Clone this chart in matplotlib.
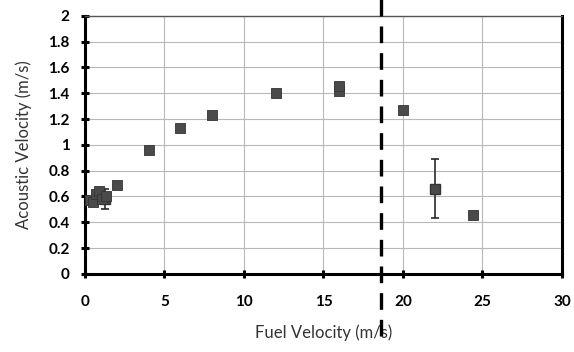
import numpy as np
import matplotlib.pyplot as plt
import matplotlib.transforms as mtransforms

# Messpunkte (Fuel Velocity, Acoustic Velocity)
fuel_vel = [0.3, 0.5, 0.7, 0.9, 1.1, 1.3, 2.0, 4.0, 6.0, 8.0, 12.0, 16.0, 16.0, 20.0, 24.4]
acoustic_vel = [0.57, 0.56, 0.62, 0.64, 0.58, 0.60, 0.69, 0.96, 1.13, 1.23, 1.40, 1.42, 1.46, 1.27, 0.46]

# Punkte mit Fehlerbalken
err_x = [1.25, 22.0]
err_y = [0.58, 0.66]
err_low = [0.08, 0.23]
err_high = [0.08, 0.23]

cutoff_x = 18.6

x_ticks = [0, 5, 10, 15, 20, 25, 30]
y_ticks = [0, 0.2, 0.4, 0.6, 0.8, 1.0, 1.2, 1.4, 1.6, 1.8, 2.0]
y_labels = ["0", "0.2", "0.4", "0.6", "0.8", "1", "1.2", "1.4", "1.6", "1.8", "2"]

plt.rcParams['font.family'] = ['Lato', 'DejaVu Sans']

fig = plt.figure(figsize=(5.74, 3.52), dpi=100)
ax = fig.add_axes([0.148, 0.222, 0.831, 0.733])

ax.errorbar(err_x, err_y, yerr=[err_low, err_high], fmt='s', color='#4a4a4a',
            ecolor='#2a2a2a', elinewidth=1.2, capsize=3, capthick=1.2,
            markersize=7.5, markeredgecolor='#333333', zorder=4)
ax.scatter(fuel_vel, acoustic_vel, marker='s', s=58, color='#4a4a4a',
           edgecolor='#333333', linewidth=0.6, zorder=5)

# Gestrichelte Grenzlinie (geht über die Achsen hinaus)
trans = mtransforms.blended_transform_factory(ax.transData, ax.transAxes)
ax.plot([cutoff_x, cutoff_x], [-0.24, 1.065], transform=trans, color='black',
        linewidth=2.4, dashes=(5, 3), clip_on=False, zorder=6)

ax.set_xlim(0, 30)
ax.set_ylim(0, 2)
ax.set_xticks(x_ticks)
ax.set_yticks(y_ticks)
ax.set_yticklabels(y_labels)
ax.grid(True, color='#b8b8b8', linewidth=0.8)
ax.set_axisbelow(True)

for side in ['left', 'bottom', 'right']:
    ax.spines[side].set_linewidth(2.2)
    ax.spines[side].set_color('black')
ax.spines['top'].set_color('#555555')
ax.spines['top'].set_linewidth(1.0)
ax.tick_params(axis='both', direction='inout', length=6, width=2.2, labelsize=11)
ax.tick_params(axis='x', pad=12)
ax.tick_params(axis='y', pad=8)
ax.tick_params(right=False, top=False)
for lbl in ax.get_xticklabels() + ax.get_yticklabels():
    lbl.set_fontweight('bold')

ax.set_xlabel("Fuel Velocity (m/s)", fontsize=12, color='#333333', labelpad=11)
ax.set_ylabel("Acoustic Velocity (m/s)", fontsize=12, color='#333333', labelpad=12)

fig.savefig("out.png", dpi=100)
